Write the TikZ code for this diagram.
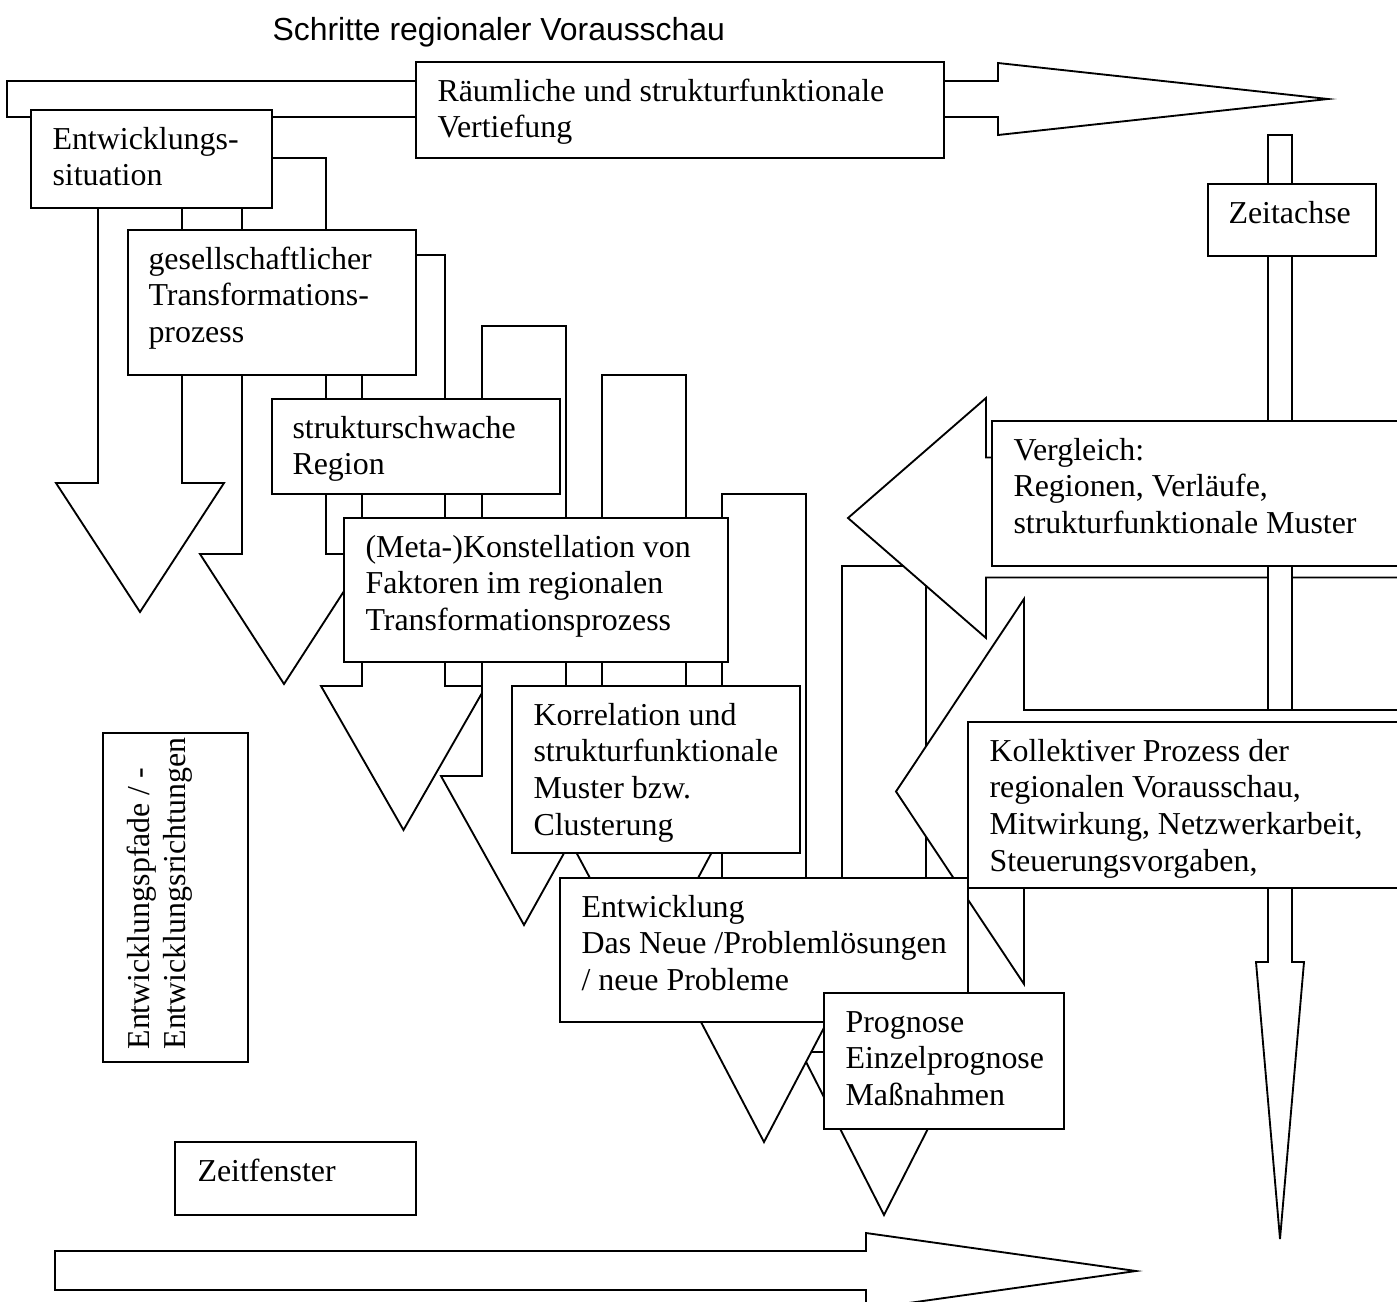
\documentclass[tikz,border=0pt]{standalone}
\usepackage{fontspec}
\setmainfont{Liberation Serif}
\newfontfamily\titlefont{Liberation Sans}
\newcommand\tb[5]{\node[tbox, minimum width={(#4-#2)*0.376pt}, minimum height={(#5-#3)*0.376pt}] (#1) at (#2,#3) {};}
\begin{document}
\begin{tikzpicture}[x=0.376pt, y=-0.376pt,
  shp/.style={draw, fill=white, line width=0.7pt, line join=miter},
  tbox/.style={draw, fill=white, line width=0.7pt, inner sep=0pt, outer sep=0pt, anchor=north west, rectangle},
  txt/.style={anchor=north west, inner sep=0pt, align=left, font=\fontsize{12pt}{13.8pt}\selectfont}]
\useasboundingbox (0,0) rectangle (1397,1301);
\clip (0,0) rectangle (1397,1301);

% title
\node[anchor=base west, inner sep=0pt, font=\titlefont\fontsize{12pt}{14pt}\selectfont] (title) at (272,40) {Schritte regionaler Vorausschau};

% big arrows (top and bottom)
\draw[shp] (7,81) -- (998,81) -- (998,63) -- (1328,99) -- (998,135) -- (998,117) -- (7,117) -- cycle;
\draw[shp] (55,1251) -- (866,1251) -- (866,1233) -- (1136,1271) -- (866,1309) -- (866,1290) -- (55,1290) -- cycle;

% step arrows
\draw[shp] (98,150) -- (182,150) -- (182,483) -- (224,483) -- (140,612) -- (56,483) -- (98,483) -- cycle;
\draw[shp] (242,158) -- (326,158) -- (326,554) -- (368,554) -- (284,684) -- (200,554) -- (242,554) -- cycle;
\draw[shp] (362,255) -- (445,255) -- (445,686) -- (486,686) -- (403.5,830) -- (321,686) -- (362,686) -- cycle;
\draw[shp] (482,326) -- (566,326) -- (566,776) -- (607,776) -- (524,925) -- (441,776) -- (482,776) -- cycle;
\draw[shp] (602,375) -- (686,375) -- (686,822) -- (728,822) -- (644,979) -- (560,822) -- (602,822) -- cycle;
\draw[shp] (842,566) -- (926,566) -- (926,1052) -- (967,1052) -- (884,1215) -- (801,1052) -- (842,1052) -- cycle;
\draw[shp] (722,494) -- (806,494) -- (806,982) -- (848,982) -- (764,1142) -- (680,982) -- (722,982) -- cycle;

% left arrows and time axis
\draw[shp] (1420,457.5) -- (986,457.5) -- (986,398) -- (848,518) -- (986,638) -- (986,577.5) -- (1420,577.5) -- cycle;
\draw[shp] (1268,135) -- (1292,135) -- (1292,962) -- (1304,962) -- (1280,1239) -- (1256,962) -- (1268,962) -- cycle;
\draw[shp] (1420,710) -- (1024,710) -- (1024,599) -- (896,791.5) -- (1024,984) -- (1024,873) -- (1420,873) -- cycle;

% boxes
\tb{raum}{416}{62}{944}{158}
\tb{t1}{31}{110}{272}{208}
\tb{t2}{128}{230}{416}{375}
\tb{t3}{272}{399}{560}{494}
\tb{t4}{344}{518}{728}{662}
\tb{t5}{512}{686}{800}{853}
\tb{t6}{560}{878}{968}{1022}
\tb{t7}{824}{993}{1064}{1129}
\tb{t8}{992}{421}{1420}{566}
\tb{t9}{968}{722}{1420}{888}
\tb{t10}{1208}{184}{1376}{256}
\tb{t11}{103}{733}{248}{1062}
\tb{t12}{175}{1142}{416}{1215}

% texts
\node[txt] (raum-l) at ([shift={(21,13)}]raum.north west) {\strut Räumliche und strukturfunktionale\\Vertiefung};
\node[txt] (t1-l) at ([shift={(21,13)}]t1.north west) {\strut Entwicklungs-\\situation};
\node[txt] (t2-l) at ([shift={(20,13)}]t2.north west) {\strut gesellschaftlicher\\Transformations-\\prozess};
\node[txt] (t3-l) at ([shift={(20,13)}]t3.north west) {\strut strukturschwache\\Region};
\node[txt] (t4-l) at ([shift={(21,13)}]t4.north west) {\strut (Meta-)Konstellation von\\Faktoren im regionalen\\Transformationsprozess};
\node[txt] (t5-l) at ([shift={(21,13)}]t5.north west) {\strut Korrelation und\\strukturfunktionale\\Muster bzw.\\Clusterung};
\node[txt] (t6-l) at ([shift={(21,13)}]t6.north west) {\strut Entwicklung\\Das Neue /Problemlösungen\\/ neue Probleme};
\node[txt] (t7-l) at ([shift={(21,13)}]t7.north west) {\strut Prognose\\Einzelprognose\\Maßnahmen};
\node[txt] (t8-l) at ([shift={(21,13)}]t8.north west) {\strut Vergleich:\\Regionen, Verläufe,\\strukturfunktionale Muster};
\node[txt] (t9-l) at ([shift={(21,13)}]t9.north west) {\strut Kollektiver Prozess der\\regionalen Vorausschau,\\Mitwirkung, Netzwerkarbeit,\\Steuerungsvorgaben,};
\node[txt] (t10-l) at ([shift={(20,13)}]t10.north west) {\strut Zeitachse};
\node[txt] (t12-l) at ([shift={(22,13)}]t12.north west) {\strut Zeitfenster};
\node[txt, rotate=90] (t11-l) at (123,1050) {\strut Entwicklungspfade / -\\Entwicklungsrichtungen};
\end{tikzpicture}
\end{document}
